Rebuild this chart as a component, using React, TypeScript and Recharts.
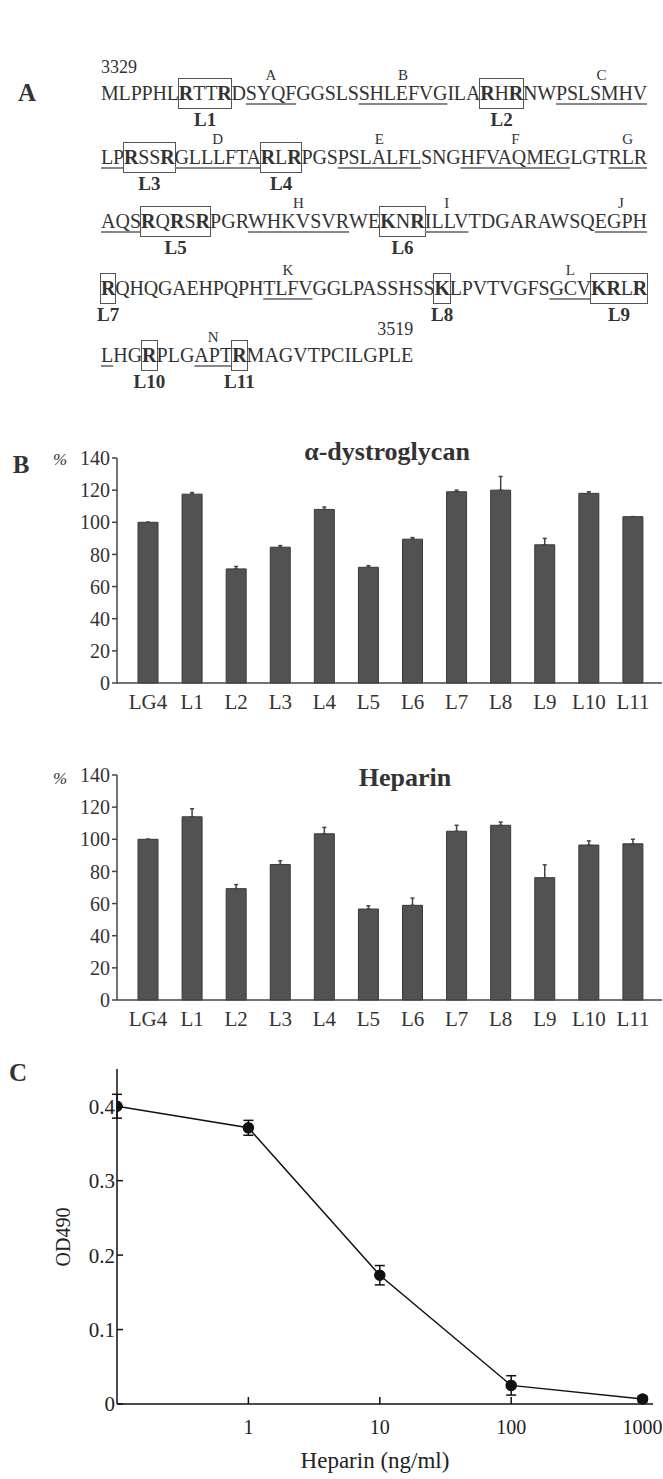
import React, { useLayoutEffect, useRef, useState } from "react";
import { BarChart, Bar, XAxis, YAxis, ErrorBar, LineChart, Line } from "recharts";

const serif = '"Liberation Serif", "DejaVu Serif", serif';

// ---- panel A: sequence 3329-3519 ----
type Tok = { s: string; box?: string; over?: string; ul?: boolean; num?: "left" | "right" };

const seqLine1: Tok[] = [
  { s: "MLPPHL", over: "3329", num: "left" },
  { s: "RTTR", box: "L1" },
  { s: "D" },
  { s: "SYQF", over: "A", ul: true },
  { s: "GGSLS" },
  { s: "SHLEFVG", over: "B", ul: true },
  { s: "ILA" },
  { s: "RHR", box: "L2" },
  { s: "NW" },
  { s: "PSLSMHV", over: "C", ul: true },
];
const seqLine2: Tok[] = [
  { s: "LP", ul: true },
  { s: "RSSR", box: "L3" },
  { s: "GLLLFTA", over: "D", ul: true },
  { s: "RLR", box: "L4" },
  { s: "PGS" },
  { s: "PSLALFL", over: "E", ul: true },
  { s: "SNG" },
  { s: "HFVAQMEG", over: "F", ul: true },
  { s: "LGT" },
  { s: "RLR", over: "G", ul: true },
];
const seqLine3: Tok[] = [
  { s: "AQS", ul: true },
  { s: "RQRSR", box: "L5" },
  { s: "PGR" },
  { s: "WHKVSVR", over: "H", ul: true },
  { s: "WE" },
  { s: "KNR", box: "L6" },
  { s: "ILLV", over: "I", ul: true },
  { s: "TDGARAWSQ" },
  { s: "EGPH", over: "J", ul: true },
];
const seqLine4: Tok[] = [
  { s: "R", box: "L7" },
  { s: "QHQGAEHPQPH" },
  { s: "TLFV", over: "K", ul: true },
  { s: "GGLPASSHSS" },
  { s: "K", box: "L8" },
  { s: "LPVTVGFS" },
  { s: "GCV", over: "L", ul: true },
  { s: "KRLR", box: "L9" },
];
const seqLine5: Tok[] = [
  { s: "L", ul: true },
  { s: "HG" },
  { s: "R", box: "L10" },
  { s: "PLG" },
  { s: "APT", over: "N", ul: true },
  { s: "R", box: "L11" },
  { s: "MAGVTPCILGPLE", over: "3519", num: "right" },
];
const seqLines = [seqLine1, seqLine2, seqLine3, seqLine4, seqLine5];
const seqCenters = [93, 157, 221, 288, 355];
const seqLeft = 101;
const seqWidth = 546;

// ---- panel B ----
const mutants = ["LG4", "L1", "L2", "L3", "L4", "L5", "L6", "L7", "L8", "L9", "L10", "L11"];
const dgValues = [100, 117.5, 71, 84.5, 108, 72, 89.5, 119, 120, 86, 118, 103.5];
const dgErrors = [0, 1, 1.5, 1, 1.5, 1, 1, 1, 8.5, 4, 1, 0];
const hepValues = [100, 114, 69.3, 84.3, 103.4, 56.6, 58.9, 105, 108.7, 76.1, 96.4, 97.2];
const hepErrors = [0, 5, 2.5, 2.3, 4, 2, 4.5, 3.7, 2, 8, 2.6, 2.8];
const pctTicks = [0, 20, 40, 60, 80, 100, 120, 140];

// ---- panel C ----
const heparinDose = [0.1, 1, 10, 100, 1000];
const od490 = [0.4, 0.371, 0.173, 0.025, 0.0067];
const od490Err = [0.016, 0.01, 0.013, 0.013, 0.004];
const odTicks = [0, 0.1, 0.2, 0.3, 0.4];
const doseTicks = [1, 10, 100, 1000];

const dgData = mutants.map((name, i) => ({ name, value: dgValues[i], err: [0, dgErrors[i]] }));
const hepData = mutants.map((name, i) => ({ name, value: hepValues[i], err: [0, hepErrors[i]] }));
const cData = heparinDose.map((dose, i) => ({ dose, od: od490[i], odErr: od490Err[i] }));

const ink = "#333";

function Txt({ x, y, size, bold, italic, anchor = "middle", rotate, color = ink, children }: any) {
  const tx = anchor === "middle" ? "-50%" : anchor === "end" ? "-100%" : "0";
  return (
    <div
      style={{
        position: "absolute",
        left: x,
        top: y - size * 0.51,
        fontSize: size,
        lineHeight: `${size}px`,
        fontWeight: bold ? 700 : 400,
        fontStyle: italic ? "italic" : "normal",
        whiteSpace: "nowrap",
        color,
        transform: rotate ? `translate(-50%, 0) rotate(${rotate}deg)` : `translateX(${tx})`,
      }}
    >
      {children}
    </div>
  );
}

function SeqLine({ toks, center, justify }: { toks: Tok[]; center: number; justify: boolean }) {
  const ref = useRef<HTMLDivElement>(null);
  const [ls, setLs] = useState(0);
  useLayoutEffect(() => {
    if (!justify || !ref.current) return;
    const w = ref.current.getBoundingClientRect().width;
    const n = toks.reduce((a, t) => a + t.s.length, 0);
    setLs((seqWidth - w) / n);
  }, []);
  return (
    <div
      ref={ref}
      style={{
        position: "absolute",
        left: seqLeft,
        top: center - 10,
        fontSize: 20,
        lineHeight: "20px",
        whiteSpace: "nowrap",
        letterSpacing: ls,
        color: ink,
      }}
    >
      {toks.map((t, i) => (
        <span
          key={i}
          style={{
            position: "relative",
            textDecoration: t.ul ? "underline" : undefined,
            textDecorationColor: "#888",
            textDecorationThickness: "1.5px",
            textUnderlineOffset: "3px",
          }}
        >
          {t.box
            ? [...t.s].map((c, j) => (
                <span key={j} style={{ fontWeight: /[RK]/.test(c) ? 700 : 400 }}>
                  {c}
                </span>
              ))
            : t.s}
          {t.box && (
            <span
              style={{
                position: "absolute",
                left: -1,
                right: -1,
                top: -4,
                bottom: -5,
                border: "1.5px solid #555",
              }}
            />
          )}
          {t.box && (
            <span
              style={{
                position: "absolute",
                left: "50%",
                top: 28,
                transform: "translateX(-50%)",
                fontWeight: 700,
                fontSize: 19,
                lineHeight: "19px",
                letterSpacing: 0,
              }}
            >
              {t.box}
            </span>
          )}
          {t.over && !t.num && (
            <span
              style={{
                position: "absolute",
                left: "50%",
                top: -14,
                transform: "translateX(-50%)",
                fontSize: 15,
                lineHeight: "15px",
                letterSpacing: 0,
              }}
            >
              {t.over}
            </span>
          )}
          {t.over && t.num && (
            <span
              style={{
                position: "absolute",
                left: t.num === "left" ? 0 : undefined,
                right: t.num === "right" ? 0 : undefined,
                top: -24,
                fontSize: 18,
                lineHeight: "18px",
                letterSpacing: 0,
              }}
            >
              {t.over}
            </span>
          )}
        </span>
      ))}
    </div>
  );
}

function PctBars({ data }: { data: any[] }) {
  return (
    <BarChart width={663} height={300} data={data} margin={{ top: 28, right: 1, bottom: 12, left: 0 }} barSize={20}>
      <XAxis
        dataKey="name"
        height={35}
        interval={0}
        tickLine={false}
        tickMargin={5}
        padding={{ left: 9, right: 7 }}
        axisLine={{ stroke: "#444", strokeWidth: 1.5 }}
        tick={{ fill: ink, fontSize: 21, fontFamily: serif }}
      />
      <YAxis
        width={117}
        domain={[0, 140]}
        ticks={pctTicks}
        interval={0}
        tickSize={5}
        tickMargin={2}
        axisLine={{ stroke: "#444", strokeWidth: 1.5 }}
        tickLine={{ stroke: "#444", strokeWidth: 1.5 }}
        tick={{ fill: ink, fontSize: 20, fontFamily: serif }}
      />
      <Bar dataKey="value" fill="#525252" stroke="#3a3a3a" strokeWidth={1} isAnimationActive={false}>
        <ErrorBar dataKey="err" width={2} stroke="#444" strokeWidth={1.5} direction="y" />
      </Bar>
    </BarChart>
  );
}

export default function App() {
  return (
    <div
      style={{
        position: "absolute",
        left: 0,
        top: 0,
        width: 663,
        height: 1479,
        background: "#fff",
        fontFamily: serif,
        overflow: "hidden",
      }}
    >
      {/* A */}
      <Txt x={27} y={seqCenters[0]} size={25} bold>A</Txt>
      {seqLines.map((toks, i) => (
        <SeqLine key={i} toks={toks} center={seqCenters[i]} justify={i < 4} />
      ))}

      {/* B */}
      <Txt x={21} y={465} size={25} bold>B</Txt>
      <div style={{ position: "absolute", left: 0, top: 430 }}>
        <PctBars data={dgData} />
      </div>
      <Txt x={60} y={460} size={17} italic>%</Txt>
      <Txt x={387} y={452} size={26} bold>α-dystroglycan</Txt>

      <div style={{ position: "absolute", left: 0, top: 747 }}>
        <PctBars data={hepData} />
      </div>
      <Txt x={60} y={779} size={17} italic>%</Txt>
      <Txt x={405} y={778} size={26} bold>Heparin</Txt>

      {/* C */}
      <Txt x={18} y={1073} size={25} bold>C</Txt>
      <div style={{ position: "absolute", left: 0, top: 1050 }}>
        <LineChart width={663} height={429} data={cData} margin={{ top: 19, right: 10, bottom: 35, left: 0 }}>
          <XAxis
            type="number"
            dataKey="dose"
            scale="log"
            domain={[0.1, 1200]}
            ticks={doseTicks}
            interval={0}
            allowDataOverflow
            height={40}
            tickSize={-7}
            tickMargin={23}
            axisLine={{ stroke: "#111", strokeWidth: 1.5 }}
            tickLine={{ stroke: "#111", strokeWidth: 1.5 }}
            tick={{ fill: "#222", fontSize: 20, fontFamily: serif }}
          />
          <YAxis
            type="number"
            domain={[0, 0.45]}
            ticks={odTicks}
            interval={0}
            width={117}
            tickSize={-6}
            tickMargin={8}
            axisLine={{ stroke: "#111", strokeWidth: 1.5 }}
            tickLine={{ stroke: "#111", strokeWidth: 1.5 }}
            tick={{ fill: "#222", fontSize: 21, fontFamily: serif }}
          />
          <Line
            dataKey="od"
            stroke="#111"
            strokeWidth={1.5}
            dot={{ r: 5, fill: "#111", stroke: "#111" }}
            isAnimationActive={false}
          >
            <ErrorBar dataKey="odErr" width={5} stroke="#111" strokeWidth={1.5} direction="y" />
          </Line>
        </LineChart>
      </div>
      <Txt x={63} y={1237} size={20} rotate={-90} color="#222">OD490</Txt>
      <Txt x={375} y={1461} size={23} color="#222">Heparin (ng/ml)</Txt>
    </div>
  );
}
